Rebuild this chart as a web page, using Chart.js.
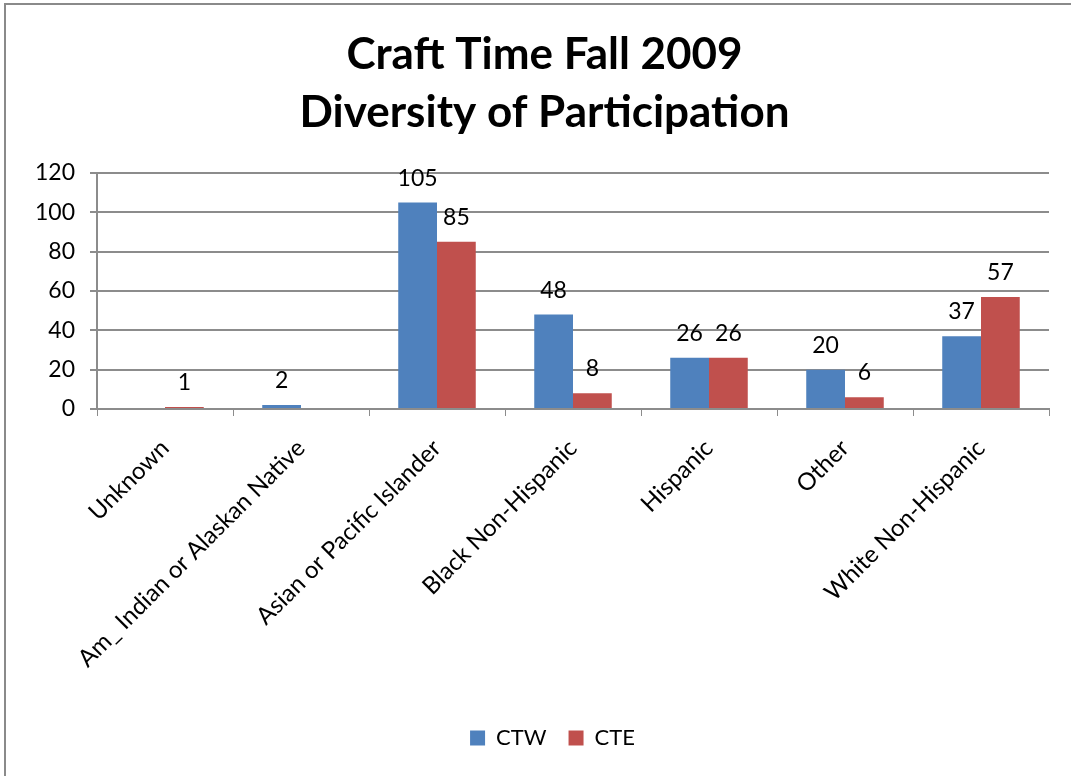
<!DOCTYPE html>
<html>
<head>
<meta charset="utf-8">
<script src="https://cdn.jsdelivr.net/npm/chart.js@4.4.1/dist/chart.umd.min.js"></script>
<style>
  body { margin: 0; background: #fff; }
  #wrap { position: relative; width: 1071px; height: 776px; overflow: hidden; }
  #frame {
    position: absolute; left: 4px; top: 3px; width: 1100px; height: 800px;
    border-left: 2px solid #8a8a8a; border-top: 2px solid #8a8a8a;
  }
  canvas { position: absolute; left: 0; top: 0; }
</style>
</head>
<body>
<div id="wrap">
  <div id="frame"></div>
  <canvas id="chart" width="1071" height="776"></canvas>
</div>
<script>
// Chart data
const categories = [
  'Unknown',
  'Am_ Indian or Alaskan Native',
  'Asian or Pacific Islander',
  'Black Non-Hispanic',
  'Hispanic',
  'Other',
  'White Non-Hispanic'
];
const ctwValues = [null, 2, 105, 48, 26, 20, 37];
const cteValues = [1, null, 85, 8, 26, 6, 57];
const titleLines = ['Craft Time Fall 2009', 'Diversity of Participation'];

const FONT = 'Lato, "Open Sans", sans-serif';
const AXIS_GREY = '#8c8c8c';

// Draw the value above each bar
const valueLabels = {
  id: 'valueLabels',
  afterDatasetsDraw(chart) {
    const ctx = chart.ctx;
    ctx.save();
    ctx.font = '23px ' + FONT;
    ctx.fillStyle = '#000';
    ctx.textAlign = 'center';
    ctx.textBaseline = 'alphabetic';
    chart.data.datasets.forEach((ds, i) => {
      chart.getDatasetMeta(i).data.forEach((bar, j) => {
        const v = ds.data[j];
        if (v == null) return;
        ctx.fillText(String(v), bar.x, bar.y - 17);
      });
    });
    ctx.restore();
  }
};

// Title and legend sit a little right of the canvas centre in the original
const shiftBoxes = {
  id: 'shiftBoxes',
  afterLayout(chart) {
    const moves = [[chart.titleBlock, 20], [chart.legend, 28]];
    moves.forEach(([box, dx]) => {
      if (!box) return;
      box.left += dx;
      box.right += dx;
    });
  }
};

new Chart(document.getElementById('chart'), {
  type: 'bar',
  data: {
    labels: categories,
    datasets: [
      {
        label: 'CTW',
        data: ctwValues,
        backgroundColor: '#4F81BD',
        categoryPercentage: 0.57,
        barPercentage: 1
      },
      {
        label: 'CTE',
        data: cteValues,
        backgroundColor: '#C0504D',
        categoryPercentage: 0.57,
        barPercentage: 1
      }
    ]
  },
  options: {
    responsive: false,
    animation: false,
    layout: { padding: { left: 0, right: 22, top: 0, bottom: 17 } },
    plugins: {
      title: {
        display: true,
        text: titleLines,
        color: '#000',
        font: { family: FONT, size: 44, weight: 'bold', lineHeight: 58 / 44 },
        padding: { top: 26, bottom: 31 }
      },
      legend: {
        position: 'bottom',
        labels: {
          color: '#000',
          font: { family: FONT, size: 22 },
          boxWidth: 15,
          boxHeight: 15,
          padding: 22
        }
      },
      tooltip: { enabled: false }
    },
    scales: {
      x: {
        afterFit(scale) { scale.height = 296; },
        grid: {
          offset: true,
          drawOnChartArea: false,
          drawTicks: true,
          tickLength: 7,
          color: AXIS_GREY
        },
        border: { color: AXIS_GREY, width: 2 },
        ticks: {
          color: '#000',
          font: { family: FONT, size: 24 },
          minRotation: 45,
          maxRotation: 45,
          autoSkip: false,
          padding: 18
        }
      },
      y: {
        min: 0,
        max: 120,
        afterFit(scale) { scale.width = 97; },
        grid: {
          color: AXIS_GREY,
          lineWidth: 2,
          drawTicks: true,
          tickLength: 7
        },
        border: { color: AXIS_GREY, width: 2 },
        ticks: {
          stepSize: 20,
          color: '#000',
          font: { family: FONT, size: 23 },
          padding: 15
        }
      }
    }
  },
  plugins: [valueLabels, shiftBoxes]
});
</script>
</body>
</html>
